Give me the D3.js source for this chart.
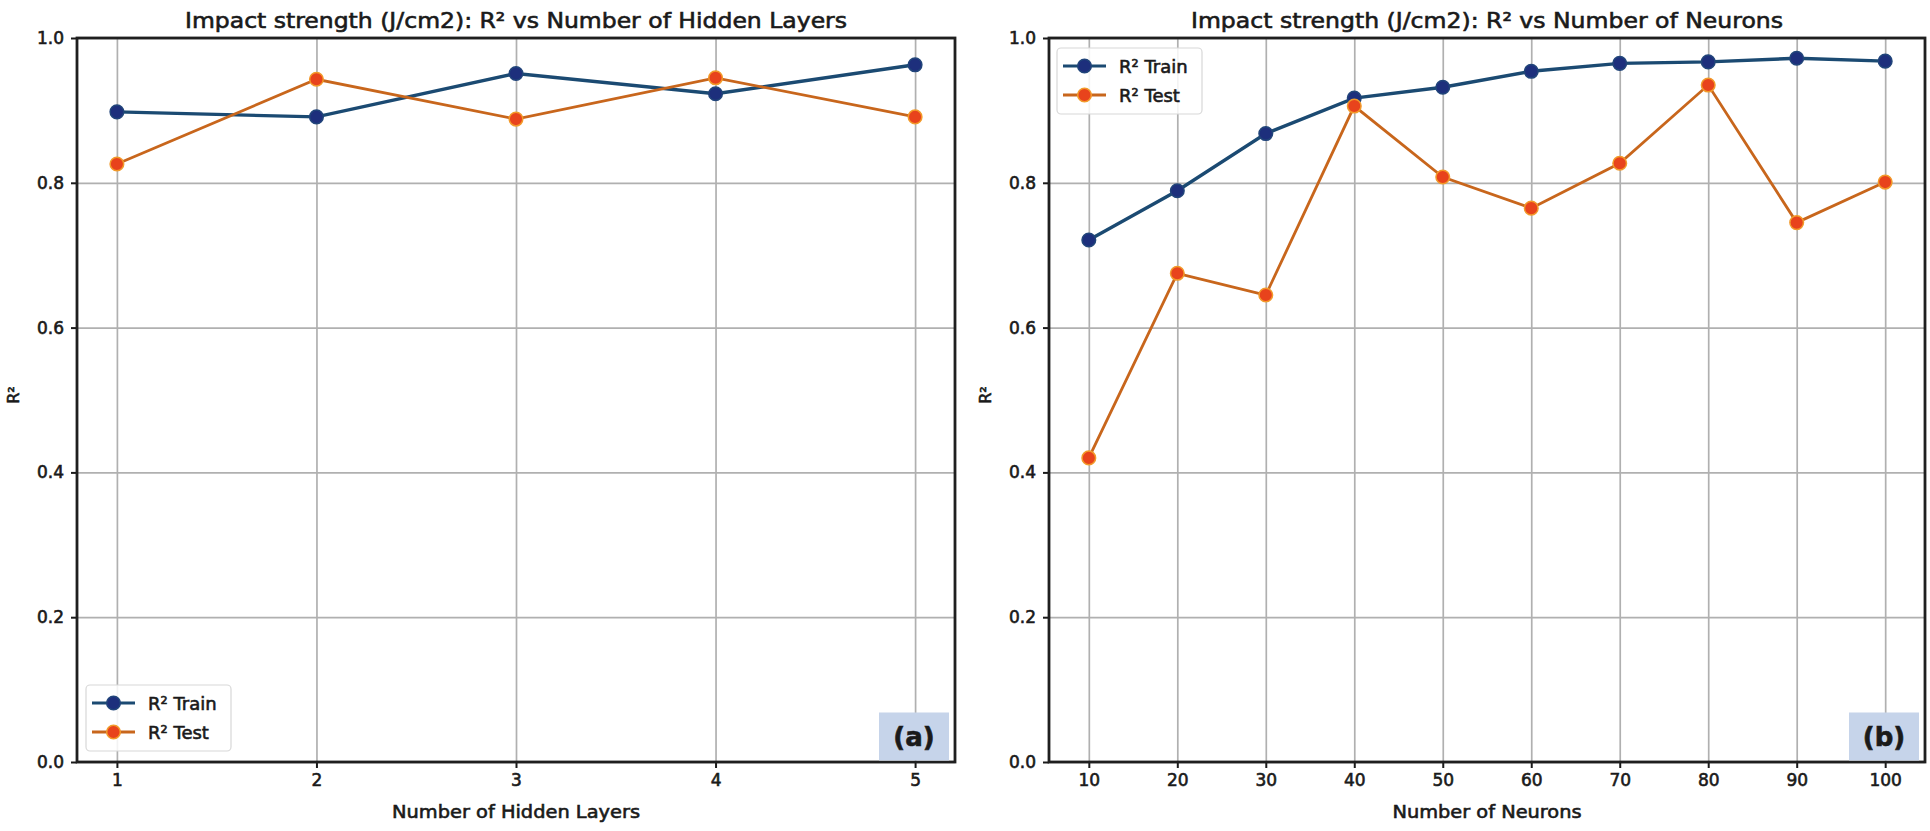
<!DOCTYPE html>
<html>
<head>
<meta charset="utf-8">
<script src="https://cdn.jsdelivr.net/npm/d3@7"></script>
<style>
  html, body { margin: 0; padding: 0; background: #ffffff; }
  svg { display: block; }
  text { font-family: "DejaVu Sans", sans-serif; fill: #1a1a1a; stroke: #1a1a1a; stroke-width: 0.6px; }
</style>
</head>
<body>
<svg id="chart" width="1930" height="831"></svg>
<script>
// ---- data ----
const hiddenLayers = [1, 2, 3, 4, 5];
const hiddenTrain = [0.898, 0.891, 0.951, 0.923, 0.963];
const hiddenTest  = [0.826, 0.943, 0.888, 0.945, 0.891];

const neurons = [10, 20, 30, 40, 50, 60, 70, 80, 90, 100];
const neuronTrain = [0.721, 0.789, 0.868, 0.917, 0.932, 0.954, 0.965, 0.967, 0.972, 0.968];
const neuronTest  = [0.420, 0.675, 0.645, 0.906, 0.808, 0.765, 0.827, 0.935, 0.745, 0.801];

const yTickValues = [0.0, 0.2, 0.4, 0.6, 0.8, 1.0];
const seriesNames = ["R\u00b2 Train", "R\u00b2 Test"];

const titles = [
  "Impact strength (J/cm2): R\u00b2 vs Number of Hidden Layers",
  "Impact strength (J/cm2): R\u00b2 vs Number of Neurons"
];
const xLabels = ["Number of Hidden Layers", "Number of Neurons"];
const yLabel = "R\u00b2";
const panelTags = ["(a)", "(b)"];

// ---- styles ----
const trainLine = "#1b4a72", trainFill = "#1d2f7c", trainEdge = "#21457a";
const testLine = "#c8661c", testFill = "#e8431c", testEdge = "#f29a2a";

const svg = d3.select("#chart");

const panels = [
  { x: hiddenLayers, train: hiddenTrain, test: hiddenTest, left: 77, right: 955,
    title: titles[0], titleW: 662, xlab: xLabels[0], xlabW: 248, tag: panelTags[0],
    legend: { x: 86, y: 685, w: 145, h: 66 } },
  { x: neurons, train: neuronTrain, test: neuronTest, left: 1049, right: 1925,
    title: titles[1], titleW: 592, xlab: xLabels[1], xlabW: 189, tag: panelTags[1],
    legend: { x: 1057, y: 48, w: 145, h: 66 } }
];

const plotTop = 38, plotBottom = 762;

panels.forEach((p) => {
  const xmin = d3.min(p.x), xmax = d3.max(p.x), pad = (xmax - xmin) * 0.05;
  const x = d3.scaleLinear().domain([xmin - pad, xmax + pad]).range([p.left, p.right]);
  const y = d3.scaleLinear().domain([0, 1]).range([plotBottom, plotTop]);
  const g = svg.append("g");

  // background
  g.append("rect").attr("x", p.left).attr("y", plotTop)
    .attr("width", p.right - p.left).attr("height", plotBottom - plotTop).attr("fill", "#ffffff");

  // grid
  const gx = g.append("g").attr("transform", `translate(0,${plotBottom})`)
    .call(d3.axisBottom(x).tickValues(p.x).tickSize(-(plotBottom - plotTop)).tickFormat(""));
  gx.select(".domain").remove();
  gx.selectAll("line").attr("stroke", "#b0b0b0").attr("stroke-width", 1.7);
  const gy = g.append("g").attr("transform", `translate(${p.left},0)`)
    .call(d3.axisLeft(y).tickValues(yTickValues).tickSize(-(p.right - p.left)).tickFormat(""));
  gy.select(".domain").remove();
  gy.selectAll("line").attr("stroke", "#b0b0b0").attr("stroke-width", 1.7);

  // lines
  const line = d3.line().x((d, i) => x(p.x[i])).y(d => y(d));
  g.append("path").datum(p.train).attr("d", line).attr("fill", "none")
    .attr("stroke", trainLine).attr("stroke-width", 3.4);
  g.append("path").datum(p.test).attr("d", line).attr("fill", "none")
    .attr("stroke", testLine).attr("stroke-width", 2.8);
  g.selectAll(".ptr").data(p.train).enter().append("circle")
    .attr("cx", (d, i) => x(p.x[i])).attr("cy", d => y(d)).attr("r", 6.8)
    .attr("fill", trainFill).attr("stroke", trainEdge).attr("stroke-width", 1.5);
  g.selectAll(".pte").data(p.test).enter().append("circle")
    .attr("cx", (d, i) => x(p.x[i])).attr("cy", d => y(d)).attr("r", 6.8)
    .attr("fill", testFill).attr("stroke", testEdge).attr("stroke-width", 1.5);

  // axes with ticks
  const ax = g.append("g").attr("transform", `translate(0,${plotBottom})`)
    .call(d3.axisBottom(x).tickValues(p.x).tickSize(6).tickPadding(6).tickFormat(d3.format("d")));
  ax.select(".domain").remove();
  ax.selectAll("line").attr("stroke", "#1a1a1a").attr("stroke-width", 2);
  ax.selectAll("text").attr("font-size", 17).attr("fill", "#1a1a1a")
    .style("font-family", "DejaVu Sans");
  const ay = g.append("g").attr("transform", `translate(${p.left},0)`)
    .call(d3.axisLeft(y).tickValues(yTickValues).tickSize(6).tickPadding(7).tickFormat(d3.format(".1f")));
  ay.select(".domain").remove();
  ay.selectAll("line").attr("stroke", "#1a1a1a").attr("stroke-width", 2);
  ay.selectAll("text").attr("font-size", 17).attr("fill", "#1a1a1a")
    .style("font-family", "DejaVu Sans");

  // spines
  g.append("rect").attr("x", p.left).attr("y", plotTop)
    .attr("width", p.right - p.left).attr("height", plotBottom - plotTop)
    .attr("fill", "none").attr("stroke", "#1f1f1f").attr("stroke-width", 2.8);

  // title
  const cx = (p.left + p.right) / 2;
  g.append("text").attr("x", cx).attr("y", 28).attr("text-anchor", "middle")
    .attr("font-size", 21).attr("textLength", p.titleW).attr("lengthAdjust", "spacingAndGlyphs")
    .text(p.title);
  // x label
  g.append("text").attr("x", cx).attr("y", 818).attr("text-anchor", "middle")
    .attr("font-size", 18).attr("textLength", p.xlabW).attr("lengthAdjust", "spacingAndGlyphs")
    .text(p.xlab);
  // y label
  g.append("text").attr("transform", `translate(${p.left - 58},395) rotate(-90)`)
    .attr("text-anchor", "middle").attr("font-size", 16).text(yLabel);

  // legend
  const L = p.legend;
  const lg = g.append("g");
  lg.append("rect").attr("x", L.x).attr("y", L.y).attr("width", L.w).attr("height", L.h)
    .attr("rx", 4).attr("fill", "#ffffff").attr("fill-opacity", 0.85)
    .attr("stroke", "#d8d8d8").attr("stroke-width", 1.2);
  const rows = [
    { name: seriesNames[0], line: trainLine, fill: trainFill, edge: trainEdge },
    { name: seriesNames[1], line: testLine, fill: testFill, edge: testEdge }
  ];
  rows.forEach((r, i) => {
    const ry = L.y + 18 + i * 29;
    lg.append("line").attr("x1", L.x + 6).attr("x2", L.x + 49).attr("y1", ry).attr("y2", ry)
      .attr("stroke", r.line).attr("stroke-width", 3.2);
    lg.append("circle").attr("cx", L.x + 27.5).attr("cy", ry).attr("r", 6.8)
      .attr("fill", r.fill).attr("stroke", r.edge).attr("stroke-width", 1.5);
    lg.append("text").attr("x", L.x + 62).attr("y", ry + 6.5).attr("font-size", 18)
      .text(r.name);
  });

  // panel tag
  const tw = 70, th = 48;
  g.append("rect").attr("x", p.right - 6 - tw).attr("y", plotBottom - 1.5 - th)
    .attr("width", tw).attr("height", th).attr("fill", "#c6d4ea");
  g.append("text").attr("x", p.right - 6 - tw / 2).attr("y", plotBottom - 1.5 - th / 2 + 9)
    .attr("text-anchor", "middle").attr("font-size", 26).attr("font-weight", "bold")
    .text(p.tag);
});
</script>
</body>
</html>
